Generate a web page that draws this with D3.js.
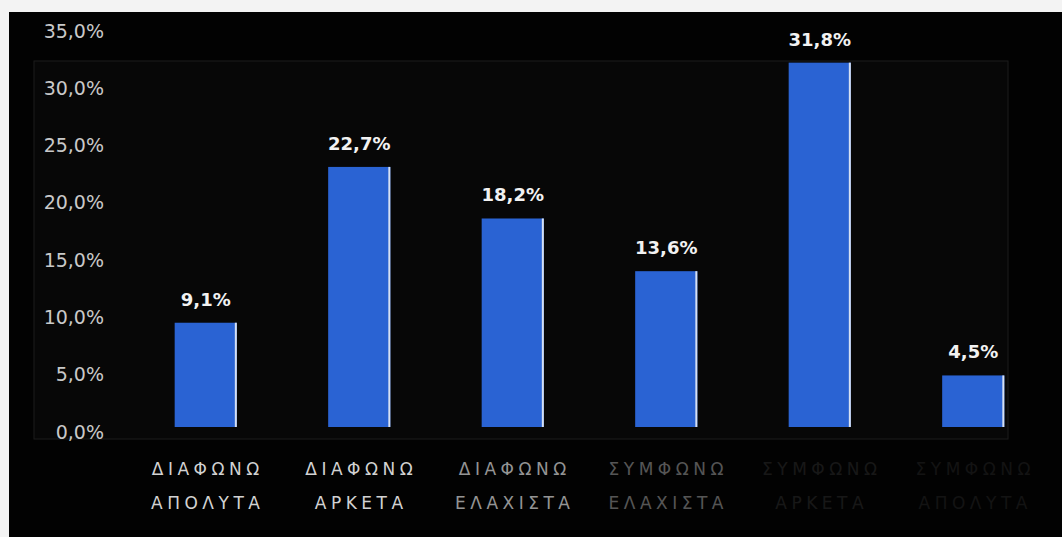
<!DOCTYPE html>
<html>
<head>
<meta charset="utf-8">
<script src="https://cdn.jsdelivr.net/npm/d3@7"></script>
<style>
  html, body { margin: 0; padding: 0; background: #f3f3f3; }
  svg { display: block; }
</style>
</head>
<body>
<svg id="chart" width="1062" height="537"></svg>
<script>
// Survey answers (agree / disagree scale) and their share of responses, in %
const categoriesLine1 = ["ΔΙΑΦΩΝΩ", "ΔΙΑΦΩΝΩ", "ΔΙΑΦΩΝΩ", "ΣΥΜΦΩΝΩ", "ΣΥΜΦΩΝΩ", "ΣΥΜΦΩΝΩ"];
const categoriesLine2 = ["ΑΠΟΛΥΤΑ", "ΑΡΚΕΤΑ", "ΕΛΑΧΙΣΤΑ", "ΕΛΑΧΙΣΤΑ", "ΑΡΚΕΤΑ", "ΑΠΟΛΥΤΑ"];
const values = [9.1, 22.7, 18.2, 13.6, 31.8, 4.5];
const yTicks = [0, 5, 10, 15, 20, 25, 30, 35];
// how strongly each category caption shows up on screen
const captionOpacity = [1, 1, 0.7, 0.4, 0.1, 0.08];

const svg = d3.select("#chart");
const fmt = v => d3.format(".1f")(v).replace(".", ",") + "%";

// dark panel
svg.append("rect").attr("x", 9).attr("y", 12).attr("width", 1053).attr("height", 525).attr("fill", "#020202");
// inner plot area
svg.append("rect").attr("x", 34).attr("y", 61).attr("width", 974).attr("height", 378)
  .attr("fill", "#070707").attr("stroke", "#1d1d1d").attr("stroke-width", 1);

const idx = values.map((d, i) => i);
const x = d3.scaleBand().domain(idx).range([129, 1050]).paddingInner(0.595).paddingOuter(0.2975);
const y = d3.scaleLinear().domain([0, 35]).range([427, 26]);

// y axis
const yAxis = d3.axisLeft(y).tickValues(yTicks).tickSize(0).tickPadding(0).tickFormat(fmt);
const gy = svg.append("g").attr("transform", "translate(104,5)").call(yAxis);
gy.select(".domain").remove();
gy.selectAll("text").attr("fill", "#c9c9c9").attr("font-family", "DejaVu Sans, Verdana, sans-serif")
  .attr("font-size", 19).attr("text-anchor", "end");

// bars
const bars = svg.append("g").selectAll("g").data(values).join("g");
bars.append("rect")
  .attr("x", (d, i) => x(i)).attr("y", d => y(d))
  .attr("width", x.bandwidth()).attr("height", d => y(0) - y(d))
  .attr("fill", "#2a63d3");
bars.append("rect")
  .attr("x", (d, i) => x(i) + x.bandwidth() - 2).attr("y", d => y(d))
  .attr("width", 2).attr("height", d => y(0) - y(d))
  .attr("fill", "#d6e0f2");

// value labels
bars.append("text")
  .attr("x", (d, i) => x(i) + x.bandwidth() / 2)
  .attr("y", d => y(d) - 17)
  .attr("text-anchor", "middle")
  .attr("fill", "#f2f2f2").attr("font-weight", "bold")
  .attr("font-family", "DejaVu Sans, Verdana, sans-serif").attr("font-size", 18)
  .text(d => fmt(d));

// category captions (two lines)
const captions = svg.append("g").selectAll("text").data(idx).join("text")
  .attr("text-anchor", "middle")
  .attr("fill", "#d2d2d2")
  .attr("opacity", i => captionOpacity[i])
  .attr("font-family", "DejaVu Sans, Verdana, sans-serif")
  .attr("font-size", 17)
  .attr("letter-spacing", 4.5);
captions.append("tspan").attr("x", i => x(i) + x.bandwidth() / 2 + 2).attr("y", 475).text(i => categoriesLine1[i]);
captions.append("tspan").attr("x", i => x(i) + x.bandwidth() / 2 + 2).attr("y", 509).text(i => categoriesLine2[i]);
</script>
</body>
</html>
